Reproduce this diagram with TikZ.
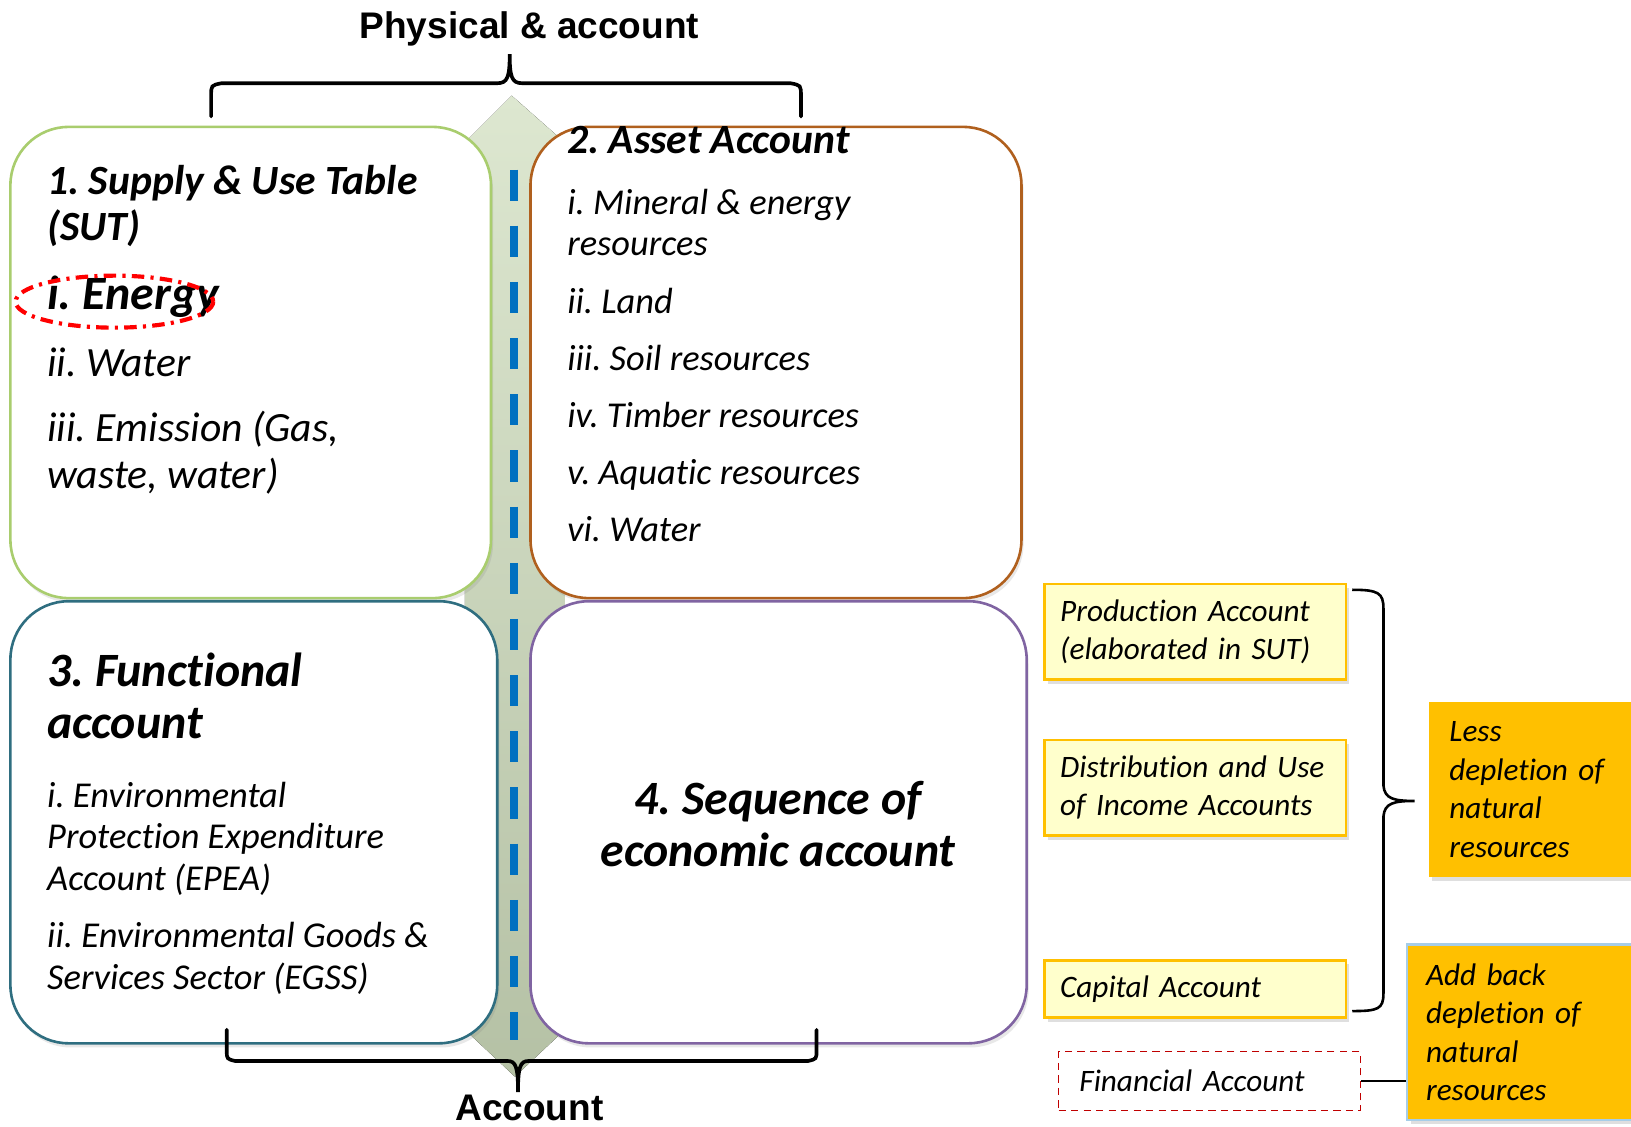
\documentclass[tikz,border=0pt]{standalone}
\usepackage{fontspec}
\setmainfont{Carlito}[Ligatures=NoCommon]
\newfontfamily\arialfont{Liberation Sans}
\usetikzlibrary{shadows}
\frenchspacing

\definecolor{sutgreen}{HTML}{A9CD6E}
\definecolor{assetbrown}{HTML}{B0601E}
\definecolor{functeal}{HTML}{2F6E80}
\definecolor{seqpurple}{HTML}{8064A2}
\definecolor{barlight}{HTML}{DDE7D0}
\definecolor{bardark}{HTML}{B5C1A5}
\definecolor{dashblue}{HTML}{0070C0}
\definecolor{notefill}{HTML}{FFFFCC}
\definecolor{noteline}{HTML}{FFC000}
\definecolor{gold}{HTML}{FFC000}
\definecolor{finred}{HTML}{C00000}
\definecolor{addline}{HTML}{A6CDE8}

\begin{document}
\begin{tikzpicture}[x=0.5pt, y=-0.5pt,
    every node/.style={inner sep=0pt},
    quad/.style={draw, line width=1.25pt, rounded corners=28pt, fill=white,
      drop shadow={opacity=0.18, shadow xshift=1pt, shadow yshift=-2pt}},
    head/.style={anchor=base west, align=left, font=\fontsize{20}{22}\selectfont\bfseries\itshape},
    bighead/.style={align=left, font=\fontsize{23}{25}\selectfont\bfseries\itshape},
    item/.style={anchor=base west, align=left, font=\fontsize{17.5}{20}\selectfont\itshape},
    bigitem/.style={anchor=base west, align=left, font=\fontsize{20}{23}\selectfont\itshape},
    note/.style={draw=noteline, line width=1.2pt, fill=notefill, anchor=north west,
      align=left, inner xsep=7.5pt, text width=130pt, minimum height=46pt,
      font=\fontsize{15}{18}\selectfont\itshape,
      drop shadow={opacity=0.25, shadow xshift=1.5pt, shadow yshift=-2pt}},
    goldbox/.style={fill=gold, anchor=north west, align=left, minimum height=84.5pt,
      font=\fontsize{15}{18.5}\selectfont\itshape,
      drop shadow={opacity=0.25, shadow xshift=1.5pt, shadow yshift=-2pt}},
    bracelabel/.style={anchor=base, font=\arialfont\bfseries\fontsize{17.8}{20}\selectfont},
    brace/.style={line width=1.75pt, line cap=round}]
  \useasboundingbox (0,0) rectangle (1568,1083);

  \fill [top color=barlight, bottom color=bardark] (492,92) -- (447,137) -- (447,990)
    -- (495,1035) -- (543,990) -- (543,137) -- cycle;

  \node [quad, draw=sutgreen, minimum width=231pt, minimum height=226.5pt] (sut) at (241,348.5) {};
  \node [quad, draw=assetbrown, minimum width=236pt, minimum height=226.5pt] (asset) at (746,348.5) {};
  \node [quad, draw=functeal, minimum width=234pt, minimum height=212.5pt] (func) at (244,790.5) {};
  \node [quad, draw=seqpurple, minimum width=238.5pt, minimum height=212.5pt] (seq) at (748.5,790.5) {};

  \coordinate (bartop) at (494,163);
  \coordinate (barbot) at (494,1000);
  \draw [dashblue, line width=4pt, dash pattern=on 15pt off 12pt] (bartop) -- (barbot);

  \node [head] (suttitle) at (45,231) {1. Supply \& Use Table\\(SUT)};
  \node [bighead, anchor=base west] (energy) at (45,298) {i. Energy};
  \node [bigitem] (sutwater) at (45,362) {ii. Water};
  \node [bigitem] (emission) at (45,470) {iii. Emission (Gas,\\waste, water)};
  \draw [red, line width=2pt, dash pattern=on 6pt off 3pt on 1.5pt off 3pt]
    (110,290) ellipse [x radius=95, y radius=25];

  \node [head] (assettitle) at (545,148) {2. Asset Account};
  \node [item] (mineral) at (545,246) {i. Mineral \& energy\\resources};
  \node [item] (land) at (545,301) {ii. Land};
  \node [item] (soil) at (545,356) {iii. Soil resources};
  \node [item] (timber) at (545,411) {iv. Timber resources};
  \node [item] (aquatic) at (545,466) {v. Aquatic resources};
  \node [item] (assetwater) at (545,521) {vi. Water};

  \node [bighead, anchor=base west] (functitle) at (45,710) {3. Functional\\account};
  \node [item] (epea) at (45,856) {i. Environmental\\Protection Expenditure\\Account (EPEA)};
  \node [item] (egss) at (45,951) {ii. Environmental Goods \&\\Services Sector (EGSS)};

  \node [bighead, align=center] (seqtitle) at (748,792) {4. Sequence of\\economic account};

  \node [bracelabel] (physical) at (509,37) {Physical \& account};
  \draw [brace] (203,112) -- (203,92) .. controls (203,82) .. (213,80) -- (478,80)
    .. controls (488,80) and (490,74) .. (490,52) .. controls (490,74) and (492,80) .. (502,80)
    -- (760,80) .. controls (770,82) .. (770,92) -- (770,112);
  \node [bracelabel] (account) at (509,1077) {Account};
  \draw [brace] (218,990) -- (218,1010) .. controls (218,1018) .. (226,1020) -- (488,1020)
    .. controls (496,1020) and (498,1026) .. (498,1050) .. controls (498,1026) and (500,1020) .. (508,1020)
    -- (777,1020) .. controls (785,1018) .. (785,1010) -- (785,990);

  \node [note] (prod) at (1003,560) {Production Account\\(elaborated in SUT)};
  \node [note] (dist) at (1003,710) {Distribution and Use\\of Income Accounts};
  \node [note, minimum height=27.5pt] (capital) at (1003,922) {Capital Account};
  \node [draw=finred, line width=0.75pt, dash pattern=on 3.5pt off 2.5pt, anchor=north west,
    align=left, inner xsep=10pt, text width=125pt, minimum height=28.5pt,
    font=\fontsize{15}{18}\selectfont\itshape] (fin) at (1017,1010) {Financial Account};

  \draw [line width=1.25pt] (1300,567) .. controls (1325,567) and (1330,570) .. (1330,585)
    -- (1330,755) .. controls (1331,768) and (1340,770) .. (1360,770)
    .. controls (1340,770) and (1331,772) .. (1330,785) -- (1330,955)
    .. controls (1330,970) and (1325,972) .. (1300,972);

  \node [goldbox, inner xsep=10pt, text width=85pt] (less) at (1373,674) {Less\\depletion of\\natural\\resources};
  \node [goldbox, draw=addline, line width=1pt, inner xsep=9pt, text width=96pt] (addback) at (1352,907) {Add back\\depletion of\\natural\\resources};
  \draw [line width=1pt] (fin.east) -- (fin.east -| addback.west);
\end{tikzpicture}
\end{document}
